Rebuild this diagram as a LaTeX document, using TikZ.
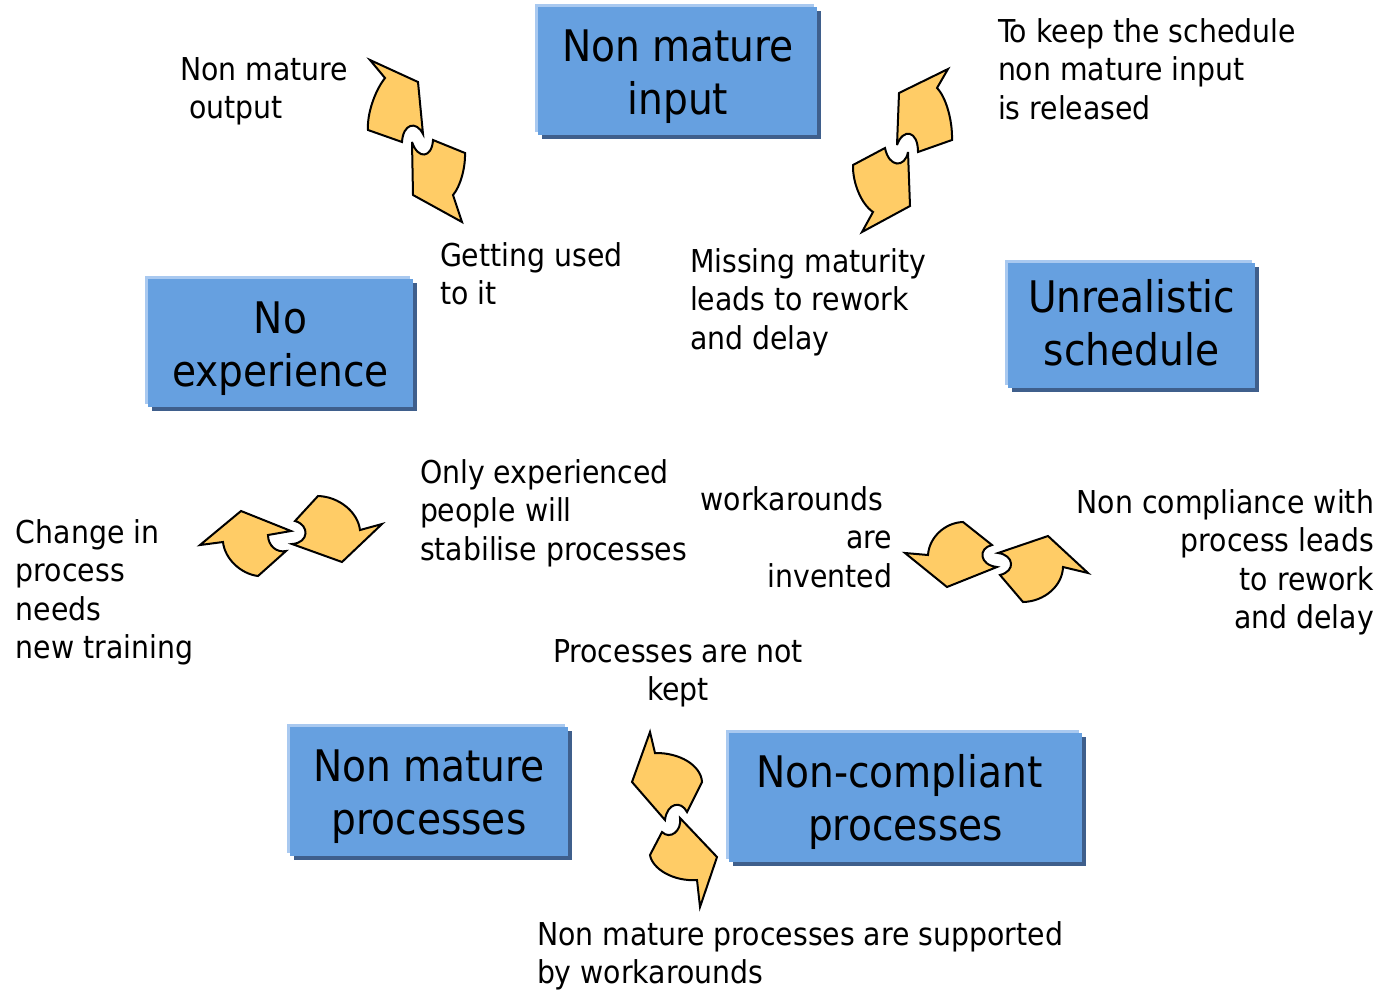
\documentclass[tikz,border=0pt]{standalone}
\usepackage{fontspec}
\setmainfont{DejaVu Sans Condensed}
\definecolor{boxblue}{HTML}{66A0E0}
\definecolor{boxlight}{HTML}{A9C9F0}
\definecolor{boxdark}{HTML}{3F5F8C}
\definecolor{cycfill}{HTML}{FFCC66}

% blue box with a light top/left edge and a dark bottom/right shadow
% #1 name, #2 #3 top-left corner, #4 #5 bottom-right corner
\newcommand{\bluebox}[5]{%
  \fill[boxdark] (#2+4,#3+4) rectangle (#4+4,#5+4);
  \fill[boxlight] (#2-3,#3-3) rectangle (#4-3,#5-3);
  \node[boxmain, minimum width={#4-#2}, minimum height={#5-#3}]
    (#1) at ({(#2+#4)/2},{(#3+#5)/2}) {};
}

\begin{document}
\begin{tikzpicture}[x=1pt,y=-1pt,
  lbl/.style={inner sep=0pt, outer sep=0pt, font=\fontsize{31.5}{38.5}\selectfont},
  boxtxt/.style={inner sep=0pt, outer sep=0pt, font=\fontsize{43.5}{53}\selectfont},
  boxmain/.style={fill=boxblue, draw=none, inner sep=0pt, outer sep=0pt},
  cyc/.style={fill=cycfill, draw=black, line width=2pt, line join=miter, miter limit=5}]

\fill[white] (0,0) rectangle (1383,989);
\useasboundingbox (0,0) rectangle (1383,989);

% ---------- boxes ----------
\bluebox{input}{538}{7}{817}{135}
\bluebox{noexp}{148}{279}{413}{407}
\bluebox{sched}{1008}{263}{1255}{388}
\bluebox{nmproc}{290}{727}{568}{856}
\bluebox{ncproc}{729}{733}{1082}{862}

\node[boxtxt, anchor=base] (input-t) at (678,61)
  {\begin{tabular}[t]{@{}c@{}}Non mature\\input\end{tabular}};
\node[boxtxt, anchor=base] (noexp-t) at (280.5,333.5)
  {\begin{tabular}[t]{@{}c@{}}No\\experience\end{tabular}};
\node[boxtxt, anchor=base] (sched-t) at (1131.5,312)
  {\begin{tabular}[t]{@{}c@{}}Unrealistic\\schedule\end{tabular}};
\node[boxtxt, anchor=base] (nmproc-t) at (429,781)
  {\begin{tabular}[t]{@{}c@{}}Non mature\\processes\end{tabular}};
\node[boxtxt, anchor=base] (ncproc-t) at (905.5,787)
  {\begin{tabular}[t]{@{}c@{}}Non-compliant\hspace*{12pt}\\processes\end{tabular}};

% ---------- cycle arrows ----------
% top left pair
\draw[cyc] (370,60) -- (385,78) .. controls (374.5,91.2) and (366.9,114.6) .. (368,130)
  -- (402,142) .. controls (403,124) and (416,120) .. (423,134) -- (418,82) -- cycle;
\draw[cyc] (412,142) .. controls (418,160) and (432,158) .. (433,140) -- (465,153)
  .. controls (465.5,167.9) and (460.2,186.8) .. (453,195) -- (462,222) -- (413,195) -- cycle;
% top right pair
\draw[cyc] (948,69) -- (937,88) .. controls (945.8,96.8) and (952.6,120.2) .. (952,140)
  -- (918,152) .. controls (918,130) and (903,128) .. (897,145) -- (899,93) -- cycle;
\draw[cyc] (908,152) .. controls (905,168) and (889,168) .. (885,148) -- (853,165)
  .. controls (852.5,183.2) and (861.5,204.3) .. (873,212) -- (862,232) -- (910,206) -- cycle;
% middle left pair
\draw[cyc] (200,545) -- (241,511) -- (291,531) -- (268,535)
  .. controls (268,546) and (277,553) .. (286,551) -- (258,576)
  .. controls (240.4,573.8) and (224.7,558.5) .. (223,542) -- cycle;
\draw[cyc] (292,544) .. controls (309,543) and (310,525) .. (295,521) -- (318,496)
  .. controls (338.9,496.6) and (357.8,511.9) .. (360,530) -- (382,524) -- (342,562) -- cycle;
% middle right pair
\draw[cyc] (928,555) .. controls (929.1,537.4) and (944.9,522.6) .. (963,522) -- (992,545)
  .. controls (978,548) and (979,565) .. (997,567) -- (947,587) -- (905,553) -- cycle;
\draw[cyc] (998,553) .. controls (1014,555) and (1016,571) .. (1000,575) -- (1023,602)
  .. controls (1044.5,601.5) and (1062.5,585.7) .. (1063,567) -- (1088,573) -- (1048,536) -- cycle;
% bottom pair
\draw[cyc] (650,732) -- (655,753) .. controls (679.8,752.5) and (701.1,765.5) .. (702,782)
  -- (687,812) .. controls (681,800) and (667,803) .. (665,820) -- (632,782) -- cycle;
\draw[cyc] (662,832) .. controls (670,840) and (682,831) .. (680,818) -- (717,857)
  -- (700,907) -- (697,880) .. controls (673.4,881.7) and (652.2,868.8) .. (650,855) -- cycle;

% ---------- labels ----------
\node[lbl, anchor=base west] (l-output) at (180,80)
  {\begin{tabular}[t]{@{}l@{}}Non mature\\\hspace*{9pt}output\end{tabular}};
\node[lbl, anchor=base west] (l-keep) at (998,42)
  {\begin{tabular}[t]{@{}l@{}}To keep the schedule\\non mature input\\is released\end{tabular}};
\node[lbl, anchor=base west] (l-used) at (440,266)
  {\begin{tabular}[t]{@{}l@{}}Getting used\\to it\end{tabular}};
\node[lbl, anchor=base west] (l-missing) at (690,272)
  {\begin{tabular}[t]{@{}l@{}}Missing maturity\\leads to rework\\and delay\end{tabular}};
\node[lbl, anchor=base west] (l-only) at (420,483)
  {\begin{tabular}[t]{@{}l@{}}Only experienced\\people will\\stabilise processes\end{tabular}};
\node[lbl, anchor=base west] (l-change) at (16,543)
  {\begin{tabular}[t]{@{}l@{}}Change in\\process\\needs\\new training\end{tabular}};
\node[lbl, anchor=base east] (l-work) at (892,510)
  {\begin{tabular}[t]{@{}r@{}}workarounds\hspace*{9pt}\\are\\invented\end{tabular}};
\node[lbl, anchor=base east] (l-noncomp) at (1374,513)
  {\begin{tabular}[t]{@{}r@{}}Non compliance with\\process leads\\to rework\\and delay\end{tabular}};
\node[lbl, anchor=base] (l-kept) at (678,662)
  {\begin{tabular}[t]{@{}c@{}}Processes are not\\kept\end{tabular}};
\node[lbl, anchor=base west] (l-support) at (537,945)
  {\begin{tabular}[t]{@{}l@{}}Non mature processes are supported\\by workarounds\end{tabular}};
\end{tikzpicture}
\end{document}
